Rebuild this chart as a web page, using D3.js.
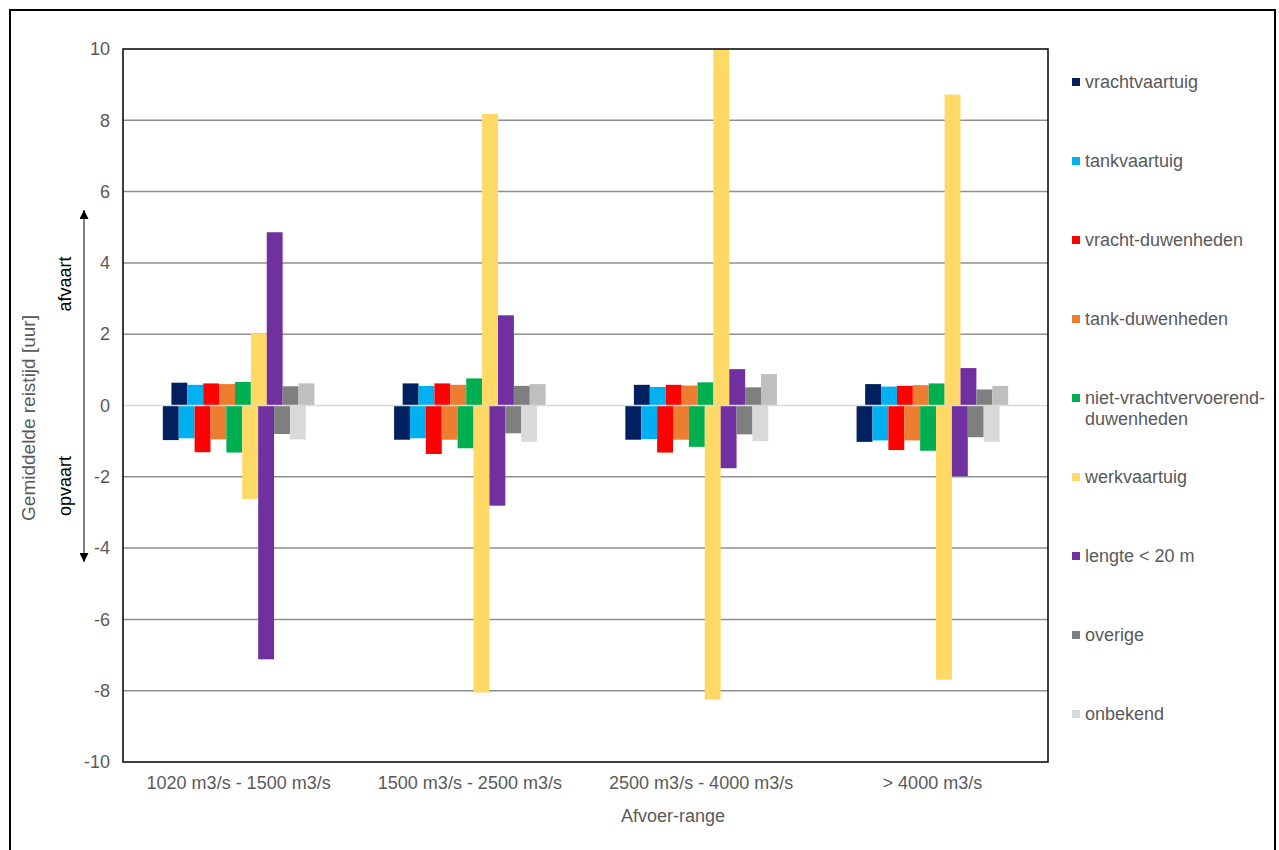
<!DOCTYPE html>
<html>
<head>
<meta charset="utf-8">
<script src="https://cdn.jsdelivr.net/npm/d3@7"></script>
<style>
  html, body { margin: 0; padding: 0; background: #fff; }
  svg { display: block; font-family: "Liberation Sans", Arial, sans-serif; }
</style>
</head>
<body>
<svg id="chart" width="1279" height="850"></svg>
<script>
// ---- Data ----
const categories = ["1020 m3/s - 1500 m3/s", "1500 m3/s - 2500 m3/s", "2500 m3/s - 4000 m3/s", "> 4000 m3/s"];
const seriesNames = ["vrachtvaartuig", "tankvaartuig", "vracht-duwenheden", "tank-duwenheden",
  "niet-vrachtvervoerend-duwenheden", "werkvaartuig", "lengte < 20 m", "overige", "onbekend"];
const legendLines = [["vrachtvaartuig"], ["tankvaartuig"], ["vracht-duwenheden"], ["tank-duwenheden"],
  ["niet-vrachtvervoerend-", "duwenheden"], ["werkvaartuig"], ["lengte < 20 m"], ["overige"], ["onbekend"]];
const seriesColors = ["#002060", "#00b0f0", "#ff0000", "#ed7d31", "#00b050", "#ffd966", "#7030a0", "#7f7f7f", "#d9d9d9"];
const afvaartColors = ["#002060", "#00b0f0", "#ff0000", "#ed7d31", "#00b050", "#ffd966", "#7030a0", "#7f7f7f", "#bfbfbf"];

// afvaart (positive) per category, in series order
const afvaart1020 = [0.64, 0.58, 0.62, 0.60, 0.66, 2.02, 4.86, 0.54, 0.62];
const afvaart1500 = [0.62, 0.55, 0.62, 0.58, 0.76, 8.18, 2.53, 0.55, 0.60];
const afvaart2500 = [0.58, 0.52, 0.58, 0.56, 0.65, 10.0, 1.02, 0.51, 0.88];
const afvaart4000 = [0.60, 0.53, 0.55, 0.57, 0.62, 8.72, 1.05, 0.45, 0.55];
// opvaart (negative) per category, in series order
const opvaart1020 = [-0.97, -0.92, -1.31, -0.95, -1.32, -2.62, -7.12, -0.80, -0.95];
const opvaart1500 = [-0.96, -0.92, -1.36, -0.96, -1.20, -8.05, -2.81, -0.78, -1.02];
const opvaart2500 = [-0.96, -0.94, -1.32, -0.96, -1.16, -8.25, -1.76, -0.81, -1.00];
const opvaart4000 = [-1.02, -0.98, -1.25, -0.98, -1.27, -7.69, -1.98, -0.89, -1.02];

const yTicks = [-10, -8, -6, -4, -2, 0, 2, 4, 6, 8, 10];

const afvaart = [afvaart1020, afvaart1500, afvaart2500, afvaart4000];
const opvaart = [opvaart1020, opvaart1500, opvaart2500, opvaart4000];

// ---- Layout ----
const FS = 18;
const svg = d3.select("#chart");
const plot = { left: 123, right: 1048, top: 49, bottom: 762 };

const x0 = d3.scaleBand().domain(categories).range([plot.left, plot.right])
  .paddingInner(0.3816).paddingOuter(0.1908);
const x1 = d3.scaleBand().domain(d3.range(seriesNames.length)).range([0, x0.bandwidth()]);
const y = d3.scaleLinear().domain([-10, 10]).range([plot.bottom, plot.top]);
const shift = x1.bandwidth() * 0.27;

// outer frame
svg.append("rect").attr("x", 10).attr("y", 10).attr("width", 1265).attr("height", 850)
  .attr("fill", "#fff").attr("stroke", "#000").attr("stroke-width", 2);

// gridlines
svg.append("g").selectAll("line").data(yTicks.filter(d => d !== 0 && d !== 10 && d !== -10)).join("line")
  .attr("x1", plot.left).attr("x2", plot.right)
  .attr("y1", d => y(d)).attr("y2", d => y(d))
  .attr("stroke", "#8f8f8f").attr("stroke-width", 1.5);

// bars
const rows = [];
categories.forEach((c, ci) => {
  seriesNames.forEach((s, si) => {
    rows.push({ c, si, v: afvaart[ci][si], dir: 1 });
    rows.push({ c, si, v: opvaart[ci][si], dir: -1 });
  });
});
svg.append("g").selectAll("rect").data(rows).join("rect")
  .attr("x", d => x0(d.c) + x1(d.si) + (d.dir > 0 ? shift : -shift))
  .attr("width", x1.bandwidth())
  .attr("y", d => y(Math.max(0, d.v)))
  .attr("height", d => Math.abs(y(d.v) - y(0)))
  .attr("fill", d => d.dir > 0 ? afvaartColors[d.si] : seriesColors[d.si]);

// zero line
svg.append("line").attr("x1", plot.left).attr("x2", plot.right)
  .attr("y1", y(0)).attr("y2", y(0)).attr("stroke", "#d9d9d9").attr("stroke-width", 1.5);

// plot border
svg.append("rect").attr("x", plot.left).attr("y", plot.top)
  .attr("width", plot.right - plot.left).attr("height", plot.bottom - plot.top)
  .attr("fill", "none").attr("stroke", "#000").attr("stroke-width", 1.5);

// y axis labels
const yAxis = d3.axisLeft(y).tickValues(yTicks).tickSize(0).tickPadding(13).tickFormat(d => String(d));
const gy = svg.append("g").attr("transform", `translate(${plot.left},0)`).call(yAxis);
gy.select(".domain").remove();
gy.selectAll("text").attr("font-size", FS).attr("fill", "#595959")
  .attr("font-family", "Liberation Sans, Arial, sans-serif");

// x axis labels
const xAxis = d3.axisBottom(x0).tickSize(0).tickPadding(14);
const gx = svg.append("g").attr("transform", `translate(0,${plot.bottom})`).call(xAxis);
gx.select(".domain").remove();
gx.selectAll("text").attr("font-size", FS).attr("fill", "#595959")
  .attr("font-family", "Liberation Sans, Arial, sans-serif");

// axis titles
svg.append("text").attr("x", 673).attr("y", 822).attr("text-anchor", "middle")
  .attr("font-size", FS).attr("fill", "#595959").text("Afvoer-range");
svg.append("text").attr("transform", "translate(35,418) rotate(-90)").attr("text-anchor", "middle")
  .attr("font-size", 19).attr("fill", "#595959").text("Gemiddelde reistijd [uur]");

// afvaart / opvaart arrow
const defs = svg.append("defs");
defs.append("marker").attr("id", "ah").attr("viewBox", "0 0 10 10").attr("refX", 10).attr("refY", 5)
  .attr("markerWidth", 9).attr("markerHeight", 9).attr("orient", "auto-start-reverse")
  .attr("markerUnits", "userSpaceOnUse")
  .append("path").attr("d", "M0,0 L10,5 L0,10 Z").attr("fill", "#000");
svg.append("line").attr("x1", 84).attr("x2", 84).attr("y1", 210).attr("y2", 562)
  .attr("stroke", "#000").attr("stroke-width", 1)
  .attr("marker-start", "url(#ah)").attr("marker-end", "url(#ah)");
svg.append("text").attr("transform", "translate(71,284) rotate(-90)").attr("text-anchor", "middle")
  .attr("font-size", FS).attr("fill", "#000").text("afvaart");
svg.append("text").attr("transform", "translate(71,486) rotate(-90)").attr("text-anchor", "middle")
  .attr("font-size", FS).attr("fill", "#000").text("opvaart");

// legend
const legendY = [82, 161, 240, 319, 398, 477, 556, 635, 714];
const lg = svg.append("g").selectAll("g").data(seriesNames).join("g")
  .attr("transform", (d, i) => `translate(1072,${legendY[i]})`);
lg.append("rect").attr("x", 0).attr("y", -4).attr("width", 8).attr("height", 8)
  .attr("fill", (d, i) => seriesColors[i]);
lg.append("text").attr("x", 13).attr("y", 6).attr("font-size", FS).attr("fill", "#595959")
  .selectAll("tspan").data((d, i) => legendLines[i]).join("tspan")
  .attr("x", 13).attr("dy", (d, j) => j === 0 ? 0 : 21).text(d => d);
</script>
</body>
</html>
